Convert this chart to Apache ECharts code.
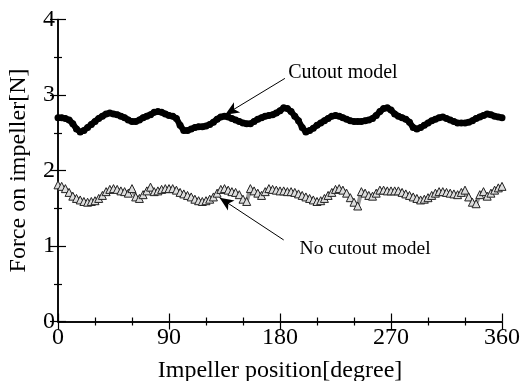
<!DOCTYPE html>
<html>
<head>
<meta charset="utf-8">
<script src="https://cdn.jsdelivr.net/npm/echarts@6/dist/echarts.min.js"></script>
<style>
  html, body { margin: 0; padding: 0; background: #fff; }
  #chart { width: 522px; height: 381px; }
</style>
</head>
<body>
<div id="chart"></div>
<script>
// impeller position, degrees (one reading every 3 degrees)
const positions = [
  0, 3, 6, 9, 12, 15, 18, 21, 24, 27, 30, 33, 36, 39, 42, 45, 48, 51, 54, 57,
  60, 63, 66, 69, 72, 75, 78, 81, 84, 87, 90, 93, 96, 99, 102, 105, 108, 111, 114, 117,
  120, 123, 126, 129, 132, 135, 138, 141, 144, 147, 150, 153, 156, 159, 162, 165, 168, 171, 174, 177,
  180, 183, 186, 189, 192, 195, 198, 201, 204, 207, 210, 213, 216, 219, 222, 225, 228, 231, 234, 237,
  240, 243, 246, 249, 252, 255, 258, 261, 264, 267, 270, 273, 276, 279, 282, 285, 288, 291, 294, 297,
  300, 303, 306, 309, 312, 315, 318, 321, 324, 327, 330, 333, 336, 339, 342, 345, 348, 351, 354, 357,
  360
];

const cutoutForce = [
  2.70, 2.70, 2.69, 2.67, 2.62, 2.55, 2.51, 2.53, 2.57, 2.61, 2.65, 2.69, 2.72, 2.75, 2.76, 2.75, 2.74, 2.72, 2.70, 2.67,
  2.65, 2.65, 2.67, 2.70, 2.72, 2.74, 2.77, 2.78, 2.77, 2.75, 2.73, 2.72, 2.69, 2.60, 2.53, 2.53, 2.55, 2.57, 2.58, 2.58,
  2.59, 2.61, 2.64, 2.68, 2.71, 2.72, 2.71, 2.69, 2.67, 2.65, 2.63, 2.62, 2.62, 2.65, 2.68, 2.70, 2.72, 2.73, 2.74, 2.76,
  2.79, 2.83, 2.82, 2.78, 2.72, 2.66, 2.57, 2.51, 2.53, 2.56, 2.60, 2.63, 2.66, 2.69, 2.72, 2.73, 2.72, 2.70, 2.68, 2.66,
  2.65, 2.65, 2.65, 2.66, 2.67, 2.69, 2.73, 2.78, 2.82, 2.83, 2.80, 2.75, 2.72, 2.70, 2.68, 2.64, 2.57, 2.55, 2.57, 2.60,
  2.63, 2.66, 2.68, 2.70, 2.71, 2.69, 2.67, 2.65, 2.63, 2.63, 2.63, 2.64, 2.66, 2.69, 2.71, 2.73, 2.75, 2.74, 2.72, 2.71,
  2.70
];

const noCutoutForce = [
  1.81, 1.79, 1.76, 1.71, 1.66, 1.63, 1.61, 1.59, 1.58, 1.59, 1.60, 1.63, 1.67, 1.72, 1.75, 1.76, 1.75, 1.73, 1.72, 1.70,
  1.76, 1.65, 1.63, 1.68, 1.73, 1.78, 1.72, 1.73, 1.75, 1.76, 1.76, 1.76, 1.74, 1.71, 1.69, 1.67, 1.65, 1.62, 1.60, 1.59,
  1.60, 1.62, 1.65, 1.70, 1.75, 1.76, 1.74, 1.72, 1.71, 1.68, 1.62, 1.59, 1.76, 1.73, 1.70, 1.67, 1.72, 1.76, 1.75, 1.74,
  1.73, 1.73, 1.72, 1.72, 1.71, 1.69, 1.67, 1.65, 1.63, 1.61, 1.59, 1.60, 1.63, 1.67, 1.71, 1.75, 1.76, 1.74, 1.70, 1.64,
  1.58, 1.53, 1.72, 1.70, 1.67, 1.66, 1.70, 1.74, 1.74, 1.73, 1.73, 1.73, 1.73, 1.71, 1.69, 1.67, 1.65, 1.63, 1.61, 1.62,
  1.64, 1.67, 1.70, 1.72, 1.72, 1.71, 1.70, 1.69, 1.68, 1.71, 1.74, 1.65, 1.58, 1.56, 1.68, 1.72, 1.66, 1.70, 1.74, 1.77,
  1.79
];

const font = '"Liberation Serif", "Times New Roman", serif';

const chart = echarts.init(document.getElementById('chart'));

const axisCommon = {
  axisLine: { lineStyle: { color: '#000', width: 1.5 } },
  axisTick: { inside: true, length: 8, lineStyle: { color: '#000', width: 1.2 } },
  minorTick: { show: true, length: 4, lineStyle: { color: '#000', width: 1.2 } },
  splitLine: { show: false },
  minorSplitLine: { show: false }
};

const option = {
  animation: false,
  backgroundColor: '#fff',
  grid: { left: 58, right: 20, top: 19.5, bottom: 59.5, containLabel: false, outerBoundsMode: 'none' },
  xAxis: [
    {
      ...axisCommon,
      type: 'value',
      min: 0,
      max: 360,
      interval: 90,
      minorTick: { ...axisCommon.minorTick, splitNumber: 3 },
      position: 'bottom',
      name: 'Impeller position[degree]',
      nameLocation: 'middle',
      nameGap: 37,
      nameTextStyle: { color: '#000', fontSize: 24, fontFamily: font },
      axisLabel: { color: '#000', fontSize: 24, fontFamily: font, margin: 4 }
    },
    {
      ...axisCommon,
      type: 'value',
      min: 0,
      max: 360,
      interval: 90,
      minorTick: { ...axisCommon.minorTick, splitNumber: 3 },
      position: 'top',
      axisLabel: { show: false }
    }
  ],
  yAxis: [
    {
      ...axisCommon,
      type: 'value',
      min: 0,
      max: 4,
      interval: 1,
      minorTick: { ...axisCommon.minorTick, splitNumber: 2 },
      position: 'left',
      name: 'Force on impeller[N]',
      nameLocation: 'middle',
      nameGap: 27,
      nameTextStyle: { color: '#000', fontSize: 24, fontFamily: font },
      axisLabel: { color: '#000', fontSize: 24, fontFamily: font, margin: 3 }
    },
    {
      ...axisCommon,
      type: 'value',
      min: 0,
      max: 4,
      interval: 1,
      minorTick: { ...axisCommon.minorTick, splitNumber: 2 },
      position: 'right',
      axisLabel: { show: false }
    }
  ],
  series: [
    {
      name: 'No cutout model',
      type: 'line',
      data: positions.map((p, i) => [p, noCutoutForce[i]]),
      symbol: 'triangle',
      symbolSize: 8,
      showAllSymbol: true,
      itemStyle: { color: '#ddd', borderColor: '#222', borderWidth: 1 },
      lineStyle: { color: '#555', width: 4, opacity: 0.6 },
      markLine: {
        silent: true,
        symbol: ['none', 'arrow'],
        symbolSize: [9, 14],
        lineStyle: { color: '#000', width: 1, type: 'solid' },
        label: { show: false },
        data: [[{ coord: [183, 1.08] }, { coord: [131, 1.64] }]]
      },
      markPoint: {
        symbol: 'circle',
        symbolSize: 1,
        itemStyle: { color: 'transparent' },
        label: { show: true, formatter: '{b}', position: 'inside', color: '#000', fontSize: 19.5, fontFamily: font },
        data: [{ name: 'No cutout model', coord: [249, 0.96] }]
      }
    },
    {
      name: 'Cutout model',
      type: 'line',
      data: positions.map((p, i) => [p, cutoutForce[i]]),
      symbol: 'circle',
      symbolSize: 7,
      showAllSymbol: true,
      itemStyle: { color: '#000' },
      lineStyle: { color: '#000', width: 6 },
      markLine: {
        silent: true,
        symbol: ['none', 'arrow'],
        symbolSize: [9, 14],
        lineStyle: { color: '#000', width: 1, type: 'solid' },
        label: { show: false },
        data: [[{ coord: [184, 3.22] }, { coord: [135.5, 2.74] }]]
      },
      markPoint: {
        symbol: 'circle',
        symbolSize: 1,
        itemStyle: { color: 'transparent' },
        label: { show: true, formatter: '{b}', position: 'inside', color: '#000', fontSize: 20, fontFamily: font },
        data: [{ name: 'Cutout model', coord: [231, 3.30] }]
      }
    }
  ]
};

option && chart.setOption(option);
</script>
</body>
</html>
